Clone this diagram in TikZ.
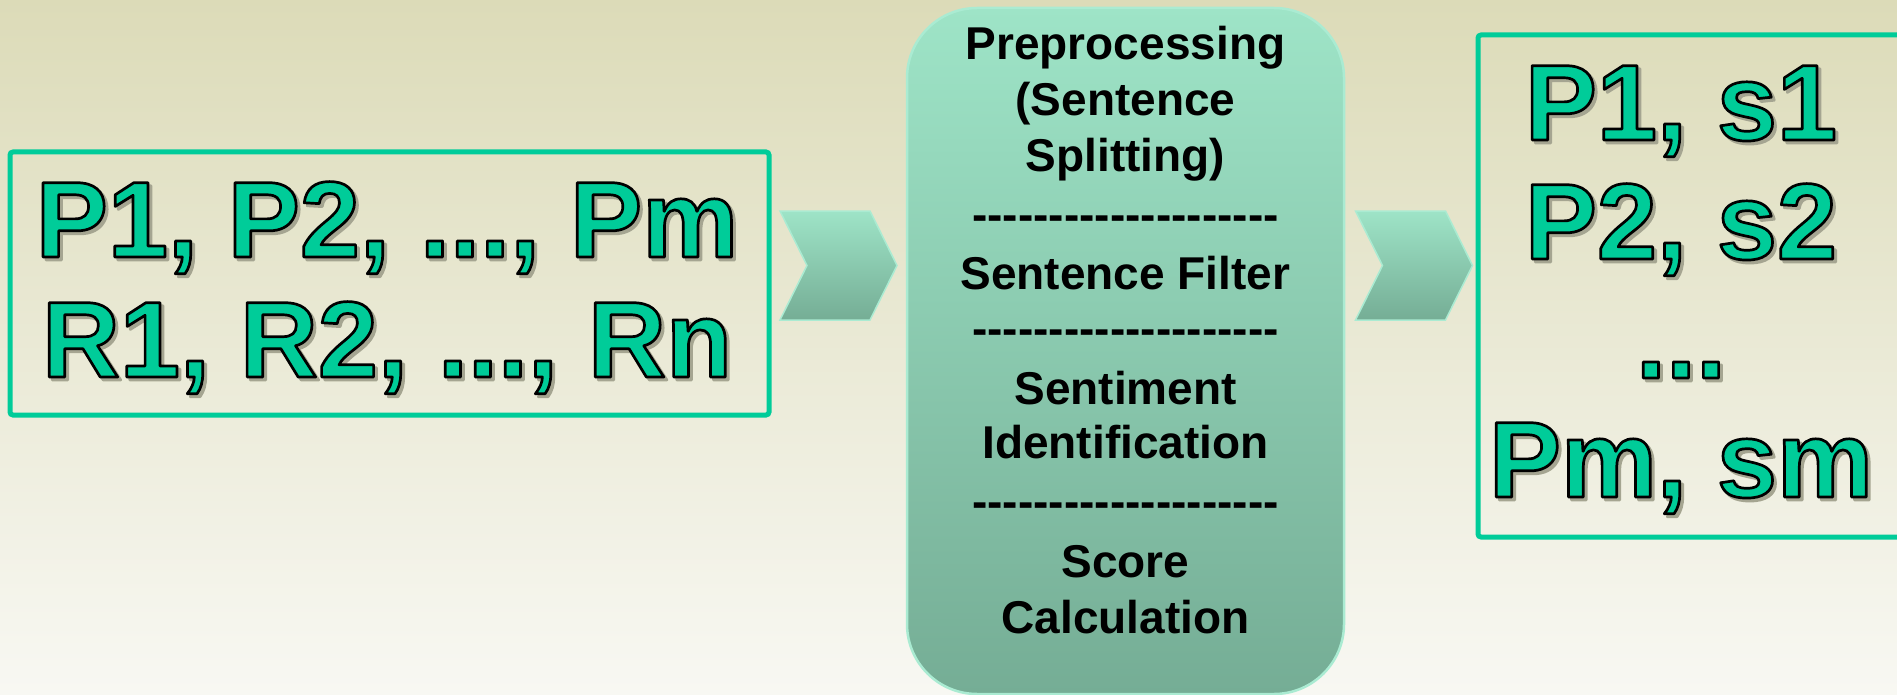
\documentclass[tikz,border=0pt]{standalone}
\usepackage{fontspec}
\setmainfont{Liberation Sans}[Ligatures=TeXOff]

\definecolor{bgtop}{RGB}{220,219,184}
\definecolor{bgbot}{RGB}{248,248,243}
\definecolor{mintline}{RGB}{0,204,153}
\definecolor{mintfill}{RGB}{0,204,153}
\definecolor{stagetop}{RGB}{158,228,199}
\definecolor{stagebot}{RGB}{117,173,149}
\definecolor{stageedge}{RGB}{170,235,210}
\definecolor{shadowcol}{RGB}{165,165,145}

% outlined list text (fill and stroke) and its soft shadow
\newcommand\bigtext[1]{{\color{mintfill}\special{pdf:literal direct 0 G 2.7 w 1 j 2 Tr}#1\special{pdf:literal direct 0 Tr}}}
\newcommand\shadowtext[1]{{\color{shadowcol}\special{pdf:literal direct 2.7 w 1 j 2 Tr}#1\special{pdf:literal direct 0 Tr}}}
\newcommand\dashrow{--------------------}

\tikzset{
  listbox/.style={draw=mintline, line width=5pt, rounded corners=3pt, inner sep=0pt},
  biglabel/.style={anchor=base, inner sep=0pt, font=\fontsize{108}{120}\selectfont\bfseries},
  stagebox/.style={rounded corners=70pt, top color=stagetop, bottom color=stagebot,
    draw=stageedge, line width=2.5pt, inner sep=0pt},
  stagetext/.style={anchor=base, inner sep=0pt, font=\fontsize{46}{55}\selectfont\bfseries},
  pics/chevron/.style={code={
    \shade[top color=stagetop, bottom color=stagebot, draw=stageedge, line width=1.5pt]
      (-58.5,-54.5) -- (31.5,-54.5) -- (58.5,0) -- (31.5,54.5) -- (-58.5,54.5) -- (-31.5,0) -- cycle;
  }}
}

\begin{document}
\begin{tikzpicture}[x=1pt,y=-1pt]
  % page background
  \shade[top color=bgtop, bottom color=bgbot] (0,0) rectangle (1897,695);
  \useasboundingbox (0,0) rectangle (1897,695);

  % input box: products and reviews
  \node[listbox, minimum width=759pt, minimum height=263pt] (inputs) at (389.5,283.5) {};
  \node[biglabel] (p-shadow) at (390,260) {\shadowtext{P1, P2, ..., Pm}};
  \node[biglabel] (p-line) at (387,257) {\bigtext{P1, P2, ..., Pm}};
  \node[biglabel] (r-shadow) at (390,380) {\shadowtext{R1, R2, ..., Rn}};
  \node[biglabel] (r-line) at (387,377) {\bigtext{R1, R2, ..., Rn}};

  % first chevron
  \pic (chev-a) at (838.5,265.5) {chevron};

  % processing stage
  \node[stagebox, minimum width=437pt, minimum height=686pt] (stage) at (1125.5,351) {};
  \node[stagetext] (s1) at (1125.5,60)  {Preprocessing};
  \node[stagetext] (s2) at (1125.5,116) {(Sentence};
  \node[stagetext] (s3) at (1125.5,172) {Splitting)};
  \node[stagetext] (d1) at (1125.5,230) {\dashrow};
  \node[stagetext] (s4) at (1125.5,289) {Sentence Filter};
  \node[stagetext] (d2) at (1125.5,344) {\dashrow};
  \node[stagetext] (s5) at (1125.5,404) {Sentiment};
  \node[stagetext] (s6) at (1125.5,458) {Identification};
  \node[stagetext] (d3) at (1125.5,517) {\dashrow};
  \node[stagetext] (s7) at (1125.5,577) {Score};
  \node[stagetext] (s8) at (1125.5,633) {Calculation};

  % second chevron
  \pic (chev-b) at (1414,265.5) {chevron};

  % output box: products with scores
  \node[listbox, minimum width=482pt, minimum height=502pt] (outputs) at (1719,286) {};
  \node[biglabel] (o1-shadow) at (1684,143) {\shadowtext{P1, s1}};
  \node[biglabel] (o1) at (1681,140) {\bigtext{P1, s1}};
  \node[biglabel] (o2-shadow) at (1684,262) {\shadowtext{P2, s2}};
  \node[biglabel] (o2) at (1681,259) {\bigtext{P2, s2}};
  \node[biglabel] (o3-shadow) at (1684,381) {\shadowtext{...}};
  \node[biglabel] (o3) at (1681,378) {\bigtext{...}};
  \node[biglabel] (o4-shadow) at (1684,500) {\shadowtext{Pm, sm}};
  \node[biglabel] (o4) at (1681,497) {\bigtext{Pm, sm}};
\end{tikzpicture}
\end{document}
